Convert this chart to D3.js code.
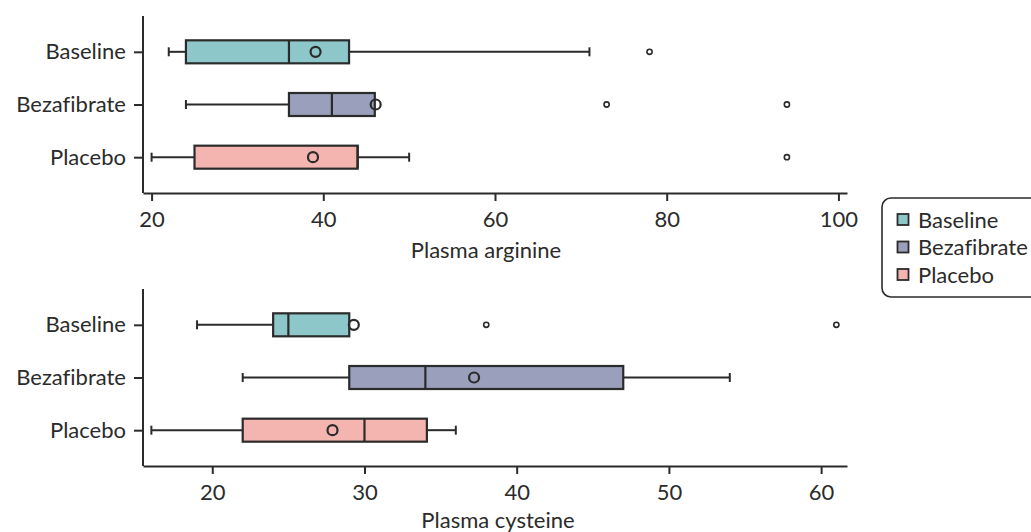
<!DOCTYPE html>
<html><head><meta charset="utf-8">
<script src="https://cdn.jsdelivr.net/npm/d3@7"></script>
<style>body{margin:0;background:#fff}svg{display:block;font-family:Lato,"Noto Sans",sans-serif;font-variant-ligatures:none}</style>
</head><body><svg id="c" width="1031" height="532"></svg>
<script>
const categories = ["Baseline", "Bezafibrate", "Placebo"];
const colors = ["#8dc7c9", "#9a9fbb", "#f4b5b0"];
// arginine: [whiskerLow, q1, median, q3, whiskerHigh]
const arginineStats = [[22, 24, 36, 43, 71], [24, 36, 41, 46, 46], [20, 25, 44, 44, 50]];
const arginineMeans = [39.1, 46.1, 38.8];
const arginineOutliers = [[78], [73, 94], [94]];
const arginineTicks = [20, 40, 60, 80, 100];
const cysteineStats = [[19, 24, 25, 29, 29], [22, 29, 34, 47, 54], [16, 22, 30, 34.1, 36]];
const cysteineMeans = [29.3, 37.2, 27.9];
const cysteineOutliers = [[38, 61], [], []];
const cysteineTicks = [20, 30, 40, 50, 60];

const svg = d3.select("#c");
const ink = "#2b2b2b";
const fs = "22px";

function panel(opt) {
  const x = d3.scaleLinear().domain(opt.domain).range([143, 847]);
  const y = d3.scalePoint().domain(categories).range([opt.top, opt.bottom]).padding(0.68);
  const g = svg.append("g");
  const bh = 23;
  categories.forEach((c, i) => {
    const s = opt.stats[i], cy = y(c);
    if (s[0] < s[1]) {
      g.append("line").attr("x1", x(s[0])).attr("x2", x(s[1])).attr("y1", cy).attr("y2", cy).attr("stroke", ink).attr("stroke-width", 2);
      g.append("line").attr("x1", x(s[0])).attr("x2", x(s[0])).attr("y1", cy - 4.5).attr("y2", cy + 4.5).attr("stroke", ink).attr("stroke-width", 2);
    }
    if (s[4] > s[3]) {
      g.append("line").attr("x1", x(s[3])).attr("x2", x(s[4])).attr("y1", cy).attr("y2", cy).attr("stroke", ink).attr("stroke-width", 2);
      g.append("line").attr("x1", x(s[4])).attr("x2", x(s[4])).attr("y1", cy - 4.5).attr("y2", cy + 4.5).attr("stroke", ink).attr("stroke-width", 2);
    }
    g.append("rect").attr("x", x(s[1])).attr("y", cy - bh / 2).attr("width", x(s[3]) - x(s[1])).attr("height", bh)
      .attr("fill", colors[i]).attr("stroke", ink).attr("stroke-width", 2.2);
    g.append("line").attr("x1", x(s[2])).attr("x2", x(s[2])).attr("y1", cy - bh / 2).attr("y2", cy + bh / 2).attr("stroke", ink).attr("stroke-width", 2.2);
    g.append("circle").attr("cx", x(opt.means[i])).attr("cy", cy).attr("r", 5).attr("fill", "none").attr("stroke", ink).attr("stroke-width", 2.2);
    opt.outliers[i].forEach(v => {
      g.append("circle").attr("cx", x(v)).attr("cy", cy).attr("r", 2.6).attr("fill", "none").attr("stroke", ink).attr("stroke-width", 1.6);
    });
  });
  const xa = g.append("g").attr("transform", `translate(0,${opt.bottom})`)
    .call(d3.axisBottom(x).tickValues(opt.ticks).tickSize(8).tickPadding(10).tickSizeOuter(0));
  const ya = g.append("g").attr("transform", `translate(143,0)`)
    .call(d3.axisLeft(y).tickSize(9).tickPadding(8).tickSizeOuter(0));
  [xa, ya].forEach(a => {
    a.select(".domain").attr("stroke", ink).attr("stroke-width", 2);
    a.selectAll(".tick line").attr("stroke", ink).attr("stroke-width", 2);
    a.selectAll(".tick text").attr("fill", ink).style("font-size", fs).style("font-family", "Lato");
  });
  ya.select(".domain").attr("d", `M0,${opt.top}V${opt.bottom}`);
  g.append("text").attr("x", opt.titleX).attr("y", opt.bottom + opt.titleDy).attr("text-anchor", "middle")
    .attr("fill", ink).style("font-size", fs).text(opt.title);
}

panel({domain: [19, 101], top: 16, bottom: 193, stats: arginineStats, means: arginineMeans, outliers: arginineOutliers, ticks: arginineTicks, title: "Plasma arginine", titleX: 486, titleDy: 65});
panel({domain: [15.45, 61.7], top: 289, bottom: 466, stats: cysteineStats, means: cysteineMeans, outliers: cysteineOutliers, ticks: cysteineTicks, title: "Plasma cysteine", titleX: 498, titleDy: 62});

// legend
const lg = svg.append("g");
lg.append("rect").attr("x", 882).attr("y", 198).attr("width", 200).attr("height", 99).attr("rx", 9)
  .attr("fill", "#fff").attr("stroke", ink).attr("stroke-width", 1.6);
categories.forEach((c, i) => {
  const cy = 219.5 + i * 27.5;
  lg.append("rect").attr("x", 897.5).attr("y", cy - 5.5).attr("width", 11).attr("height", 11)
    .attr("fill", colors[i]).attr("stroke", ink).attr("stroke-width", 1.8);
  lg.append("text").attr("x", 918).attr("y", cy + 8).attr("fill", ink).style("font-size", fs).text(c);
});
</script></body></html>
